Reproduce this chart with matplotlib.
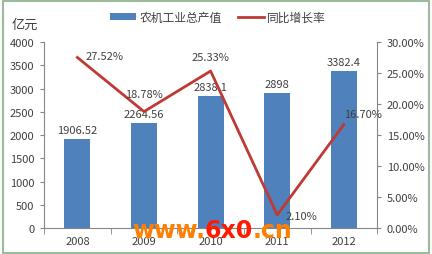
import matplotlib
matplotlib.use('Agg')
import matplotlib.pyplot as plt
from matplotlib.patches import Rectangle

plt.rcParams['font.family'] = ['Noto Sans CJK SC', 'DejaVu Sans']

# data
years = ['2008', '2009', '2010', '2011', '2012']
output = [1906.52, 2264.56, 2838.1, 2898, 3382.4]
output_labels = ['1906.52', '2264.56', '2838.1', '2898', '3382.4']
growth = [27.52, 18.78, 25.33, 2.10, 16.70]
growth_labels = ['27.52%', '18.78%', '25.33%', '2.10%', '16.70%']

bar_color = '#4F81BD'
line_color = '#BE3A34'
axis_color = '#868686'
text_color = '#404040'

fig = plt.figure(figsize=(4.32, 2.55), dpi=100)
fig.patch.set_facecolor('white')
fig.patches.append(Rectangle((0.006, 0.004), 0.988, 0.988, transform=fig.transFigure,
                             fill=False, edgecolor='#9BBB9B', linewidth=1.5))

ax = fig.add_axes([0.102, 0.102, 0.771, 0.729])
x = list(range(len(years)))
bars = ax.bar(x, output, width=0.39, color=bar_color, label='农机工业总产值', zorder=2)
ax.set_xlim(-0.5, len(years) - 0.5)
ax.set_ylim(0, 4000)
ax.set_yticks(range(0, 4001, 500))
ax.set_xticks(x)
ax.set_xticklabels(years)
ax.set_xticks([i - 0.5 for i in range(len(years) + 1)], minor=True)
ax.tick_params(axis='x', which='major', length=0, labelsize=8, colors=text_color, pad=6)
ax.tick_params(axis='x', which='minor', length=4, color=axis_color)
ax.tick_params(axis='y', length=3, color=axis_color, labelsize=8, labelcolor=text_color, pad=4)
for s in ['top', 'right']:
    ax.spines[s].set_visible(False)
for s in ['left', 'bottom']:
    ax.spines[s].set_color(axis_color)
    ax.spines[s].set_linewidth(0.8)

for xi, v, lab in zip(x, output, output_labels):
    ax.text(xi, v + 90, lab, ha='center', va='bottom', fontsize=8, color=text_color)

ax2 = ax.twinx()
line, = ax2.plot(x, growth, color=line_color, linewidth=2, label='同比增长率', zorder=3)
ax2.set_ylim(0, 30)
ax2.set_yticks(range(0, 31, 5))
ax2.set_yticklabels(['%.2f%%' % t for t in range(0, 31, 5)])
ax2.tick_params(axis='y', length=3, color=axis_color, labelsize=8, labelcolor=text_color, pad=4)
for s in ['top', 'left', 'bottom']:
    ax2.spines[s].set_visible(False)
ax2.spines['right'].set_color(axis_color)
ax2.spines['right'].set_linewidth(0.8)

offsets = [(0.12, 0.2, 'left', 'center'),
           (0, 2.0, 'center', 'bottom'),
           (0, 1.4, 'center', 'bottom'),
           (0.12, -0.2, 'left', 'center'),
           (0.0, 0.9, 'left', 'bottom')]
for xi, g, lab, (dx, dy, ha, va) in zip(x, growth, growth_labels, offsets):
    ax2.text(xi + dx, g + dy, lab, ha=ha, va=va, fontsize=8, color=text_color)

fig.text(0.027, 0.9, '亿元', fontsize=9.5, color=text_color, ha='left', va='center')

fig.legend(handles=[bars, line], loc='center', bbox_to_anchor=(0.505, 0.928),
           ncol=2, frameon=False, fontsize=8.5, handlelength=2.2, handleheight=0.6,
           columnspacing=1.3, handletextpad=0.3, labelcolor=text_color)

# watermark
wm_parts = [('www.', '#FF7F00'), ('6x0', '#FF1A00'), ('.cn', '#FF7F00')]
wm_x = 0.305
for txt, col in wm_parts:
    t = fig.text(wm_x, 0.093, txt, fontsize=17, fontweight='bold', color=col,
                 family='DejaVu Sans', ha='left', va='center')
    fig.canvas.draw()
    bb = t.get_window_extent()
    wm_x += bb.width / fig.bbox.width

fig.savefig('out.png', dpi=100, facecolor='white')
